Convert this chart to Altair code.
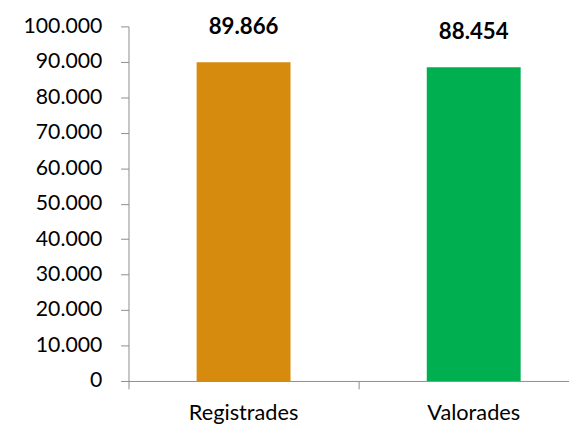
import altair as alt
import pandas as pd

categories = ["Registrades", "Valorades"]
values = [89866, 88454]
bar_colors = ["#D68B0E", "#00B050"]
y_ticks = [0, 10000, 20000, 30000, 40000, 50000, 60000, 70000, 80000, 90000, 100000]

df = pd.DataFrame({"cat": categories, "val": values})

dot_fmt = "replace(format(datum.value, ','), regexp(',', 'g'), '.')"
axis_grey = "#8c8c8c"
FONT = "Lato"
x_scale = alt.Scale(paddingInner=0.592, paddingOuter=0.253, align=0.585)

# axis carrying the domain line and the category labels
x_labels = alt.X(
    "cat:N",
    sort=categories,
    title=None,
    scale=x_scale,
    axis=alt.Axis(
        orient="bottom",
        labelAngle=0,
        ticks=False,
        domainColor=axis_grey,
        labelFont=FONT,
        labelFontSize=22,
        labelColor="#000000",
        labelPadding=22,
    ),
)
# axis carrying only the category-boundary ticks
x_ticks = alt.X(
    "cat:N",
    sort=categories,
    title=None,
    scale=x_scale,
    axis=alt.Axis(
        orient="bottom",
        labels=False,
        domain=False,
        tickColor=axis_grey,
        tickSize=8,
        tickOffset=-116.5,
    ),
)
y_axis = alt.Axis(
    values=y_ticks,
    grid=False,
    labelOverlap=False,
    labelExpr=dot_fmt,
    domainColor=axis_grey,
    tickColor=axis_grey,
    tickSize=8,
    labelPadding=19,
    labelFont=FONT,
    labelFontSize=21.5,
    labelColor="#000000",
)
y_scale = alt.Scale(domain=[0, 100000])

bars = alt.Chart(df).mark_bar().encode(
    x=x_labels,
    y=alt.Y("val:Q", title=None, scale=y_scale, axis=y_axis),
    color=alt.Color("cat:N", scale=alt.Scale(domain=categories, range=bar_colors), legend=None),
)

text = (
    alt.Chart(df)
    .transform_calculate(label="replace(format(datum.val, ','), regexp(',', 'g'), '.')")
    .mark_text(baseline="middle", dy=-36, font=FONT, fontWeight="bold", fontSize=22.5, color="#000000")
    .encode(x=x_ticks, y=alt.Y("val:Q", title=None, scale=y_scale, axis=y_axis), text="label:N")
)

chart = (
    alt.layer(bars, text)
    .resolve_axis(x="independent")
    .properties(
        width=446,
        height=359,
        autosize=alt.AutoSizeParams(type="none"),
        padding={"left": 122, "top": 16, "right": 0, "bottom": 45},
    )
    .configure_view(stroke=None)
)

chart.save("out.html", embed_options={"renderer": "svg", "actions": False})
